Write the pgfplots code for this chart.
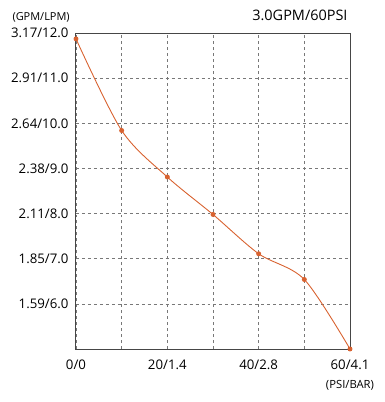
\documentclass[border=0pt]{standalone}
\usepackage{fontspec}
\setmainfont{Open Sans}
\usepackage{pgfplots}
\pgfplotsset{compat=1.18}
\definecolor{curve}{RGB}{216,98,48}
\definecolor{frame}{RGB}{70,70,70}
\definecolor{gridc}{RGB}{120,120,120}
\begin{document}
\begin{tikzpicture}[x=1bp,y=1bp]
\useasboundingbox (-76,-53) rectangle (309,349);
\begin{axis}[
  at={(0,0)}, anchor=south west,
  scale only axis, width=274bp, height=316bp,
  xmin=0, xmax=60, ymin=5, ymax=12,
  xtick={0,10,...,60},
  xticklabels={0/0,,20/1.4,,40/2.8,,60/4.1},
  ytick={6,7,...,12},
  yticklabels={1.59/6.0,1.85/7.0,2.11/8.0,2.38/9.0,2.64/10.0,2.91/11.0,3.17/12.0},
  major tick length=0pt,
  grid=major,
  grid style={gridc, dashed, line width=0.6pt},
  axis line style={frame, line width=1pt},
  tick label style={font=\fontsize{13.3}{15}\selectfont, text=black},
  /pgf/number format/assume math mode=true,
  xticklabel style={yshift=-7bp},
  yticklabel style={xshift=-4bp},
  clip=false,
]
\addplot[curve, line width=0.9pt, smooth, tension=0.5, mark=*, mark size=2pt, mark options={fill=curve, draw=curve}]
  coordinates {(0,11.87) (10,9.84) (20,8.81) (30,7.98) (40,7.11) (50,6.54) (60,5.0)};
\end{axis}
\node[anchor=base west, font=\fontsize{11}{13}\selectfont] at (-67,329) {(GPM/LPM)};
\node[anchor=base east, font=\fontsize{14.5}{16}\selectfont] at (275,329) {3.0GPM/60PSI};
\node[anchor=base, font=\fontsize{11.3}{13}\selectfont] at (274,-39) {(PSI/BAR)};
\end{tikzpicture}
\end{document}
